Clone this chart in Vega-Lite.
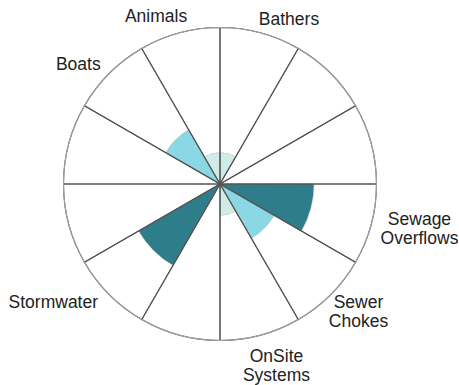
{
  "$schema": "https://vega.github.io/schema/vega-lite/v6.json",
  "width": 440,
  "height": 368,
  "autosize": "none",
  "padding": {"left": 0, "top": 0, "right": 19, "bottom": 17},
  "background": "white",
  "config": {"view": {"stroke": null}},
  "data": {
    "values": [
      {"idx": 0, "idx2": 1, "cat": "Bathers", "label": "Bathers", "value": 1, "w": 1},
      {"idx": 1, "idx2": 2, "cat": "s1", "label": "", "value": 0, "w": 1},
      {"idx": 2, "idx2": 3, "cat": "s2", "label": "", "value": 0, "w": 1},
      {"idx": 3, "idx2": 4, "cat": "Sewage Overflows", "label": "Sewage\nOverflows", "value": 3, "w": 1},
      {"idx": 4, "idx2": 5, "cat": "Sewer Chokes", "label": "Sewer\nChokes", "value": 2, "w": 1},
      {"idx": 5, "idx2": 6, "cat": "OnSite Systems", "label": "OnSite\nSystems", "value": 1, "w": 1},
      {"idx": 6, "idx2": 7, "cat": "s6", "label": "", "value": 0, "w": 1},
      {"idx": 7, "idx2": 8, "cat": "Stormwater", "label": "Stormwater", "value": 3, "w": 1},
      {"idx": 8, "idx2": 9, "cat": "s8", "label": "", "value": 0, "w": 1},
      {"idx": 9, "idx2": 10, "cat": "s9", "label": "", "value": 0, "w": 1},
      {"idx": 10, "idx2": 11, "cat": "Boats", "label": "Boats", "value": 2, "w": 1},
      {"idx": 11, "idx2": 12, "cat": "Animals", "label": "Animals", "value": 1, "w": 1}
    ]
  },
  "resolve": {"scale": {"theta": "independent"}},
  "layer": [
    {
      "layer": [
        {
          "mark": {"type": "arc", "stroke": "#9a9a9a", "strokeWidth": 0.6, "strokeDash": [1.5, 1]},
          "encoding": {
            "radius": {"field": "value", "type": "quantitative", "scale": {"type": "linear", "domain": [0, 5], "range": [0, 156.5]}},
            "color": {"field": "value", "type": "ordinal", "scale": {"domain": [0, 1, 2, 3], "range": ["#ffffff", "#d0ece8", "#8ad8e3", "#2d7d8a"]}, "legend": null}
          }
        },
        {
          "mark": {"type": "arc", "fill": null, "fillOpacity": 0, "stroke": "#555555", "strokeWidth": 1.1, "radius": 156.5},
          "encoding": {}
        },
        {
          "mark": {"type": "arc", "fill": null, "fillOpacity": 0, "stroke": "#a0a0a0", "strokeWidth": 1.2, "radius": 156.5, "radius2": 156.5},
          "encoding": {}
        }
      ],
      "encoding": {
        "theta": {"field": "idx", "type": "quantitative", "scale": {"domain": [0, 12], "range": [0, 6.283185307179586]}},
        "theta2": {"field": "idx2"}
      }
    },
    {
      "encoding": {
        "theta": {"field": "w", "type": "quantitative", "stack": true, "scale": {"domain": [0, 12], "range": [0, 6.283185307179586]}},
        "order": {"field": "idx", "type": "quantitative"}
      },
      "layer": [
        {
          "mark": {"type": "text", "font": "Liberation Sans", "fontSize": 17.5, "fill": "#222222", "align": "center", "baseline": "middle", "lineBreak": "\n", "lineHeight": 19, "radius": 168, "dx": -20.5, "dy": -4.7},
          "encoding": {"text": {"condition": {"test": "datum.cat === 'Animals'", "field": "label"}, "value": ""}}
        },
        {
          "mark": {"type": "text", "font": "Liberation Sans", "fontSize": 17.5, "fill": "#222222", "align": "center", "baseline": "middle", "lineBreak": "\n", "lineHeight": 19, "radius": 168, "dx": 25.5, "dy": -1.7},
          "encoding": {"text": {"condition": {"test": "datum.cat === 'Bathers'", "field": "label"}, "value": ""}}
        },
        {
          "mark": {"type": "text", "font": "Liberation Sans", "fontSize": 17.5, "fill": "#222222", "align": "center", "baseline": "middle", "lineBreak": "\n", "lineHeight": 19, "radius": 168, "dx": 37.2, "dy": -7.5},
          "encoding": {"text": {"condition": {"test": "datum.cat === 'Sewage Overflows'", "field": "label"}, "value": ""}}
        },
        {
          "mark": {"type": "text", "font": "Liberation Sans", "fontSize": 17.5, "fill": "#222222", "align": "center", "baseline": "middle", "lineBreak": "\n", "lineHeight": 19, "radius": 168, "dx": 19.7, "dy": 0.5},
          "encoding": {"text": {"condition": {"test": "datum.cat === 'Sewer Chokes'", "field": "label"}, "value": ""}}
        },
        {
          "mark": {"type": "text", "font": "Liberation Sans", "fontSize": 17.5, "fill": "#222222", "align": "center", "baseline": "middle", "lineBreak": "\n", "lineHeight": 19, "radius": 168, "dx": 13, "dy": 10.5},
          "encoding": {"text": {"condition": {"test": "datum.cat === 'OnSite Systems'", "field": "label"}, "value": ""}}
        },
        {
          "mark": {"type": "text", "font": "Liberation Sans", "fontSize": 17.5, "fill": "#222222", "align": "center", "baseline": "middle", "lineBreak": "\n", "lineHeight": 19, "radius": 168, "dx": -47.9, "dy": 0.2},
          "encoding": {"text": {"condition": {"test": "datum.cat === 'Stormwater'", "field": "label"}, "value": ""}}
        },
        {
          "mark": {"type": "text", "font": "Liberation Sans", "fontSize": 17.5, "fill": "#222222", "align": "center", "baseline": "middle", "lineBreak": "\n", "lineHeight": 19, "radius": 168, "dx": -22.9, "dy": -0.2},
          "encoding": {"text": {"condition": {"test": "datum.cat === 'Boats'", "field": "label"}, "value": ""}}
        }
      ]
    }
  ]
}
